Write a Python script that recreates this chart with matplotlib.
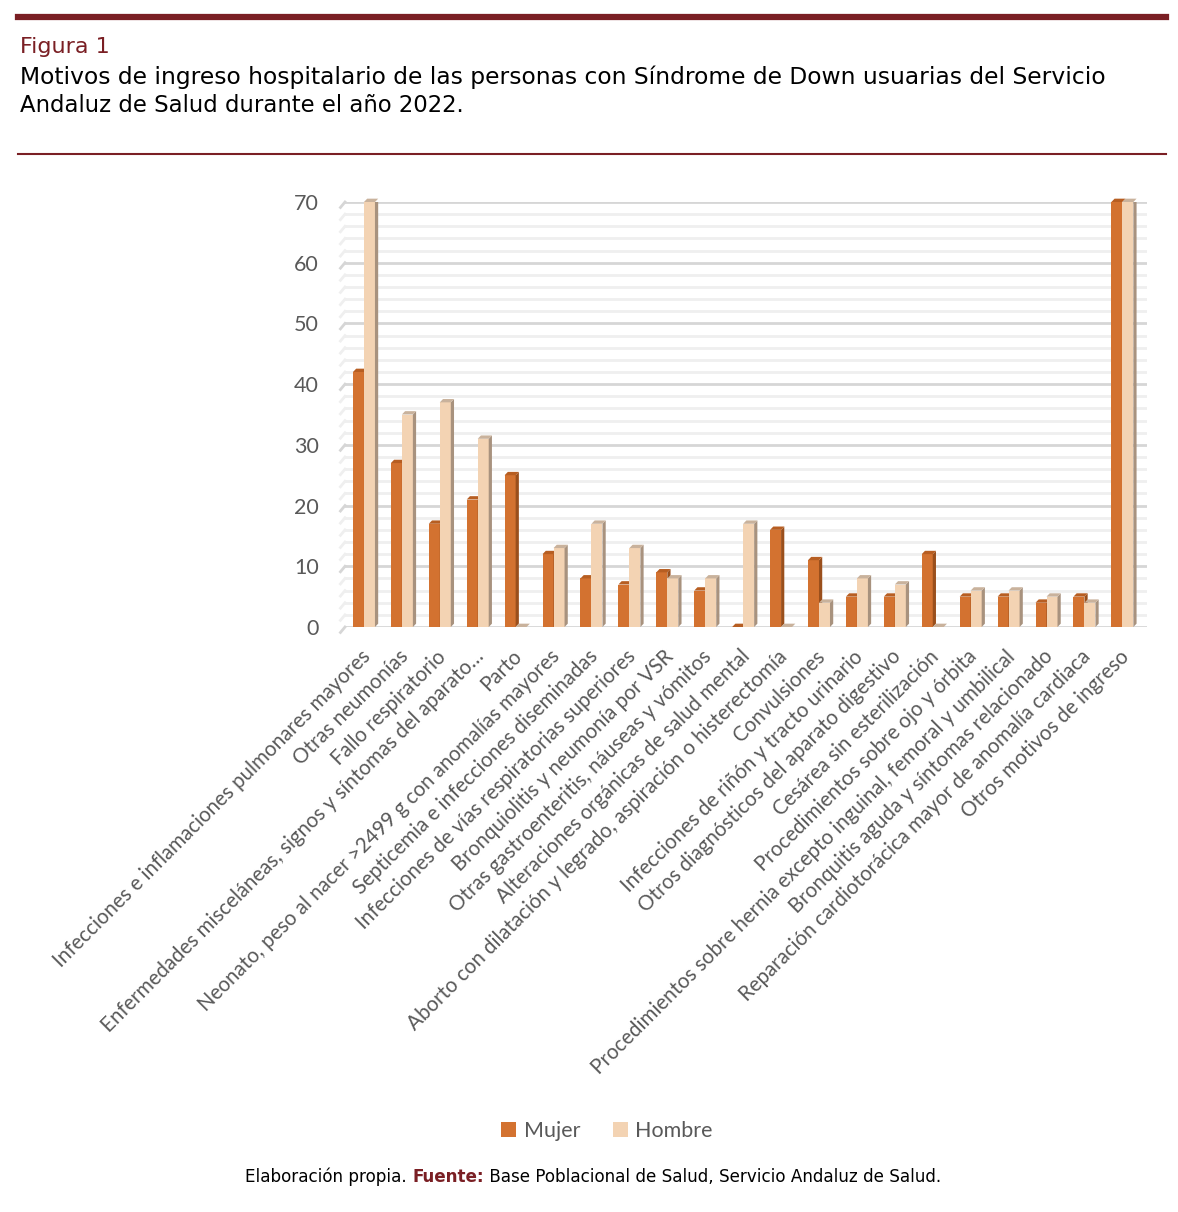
import matplotlib
matplotlib.use("Agg")
import matplotlib.pyplot as plt
from matplotlib.patches import Polygon, Rectangle
from matplotlib.lines import Line2D
import numpy as np

categorias = [
    "Infecciones e inflamaciones pulmonares mayores",
    "Otras neumonías",
    "Fallo respiratorio",
    "Enfermedades misceláneas, signos y síntomas del aparato…",
    "Parto",
    "Neonato, peso al nacer >2499 g con anomalías mayores",
    "Septicemia e infecciones diseminadas",
    "Infecciones de vías respiratorias superiores",
    "Bronquiolitis y neumonía por VSR",
    "Otras gastroenteritis, náuseas y vómitos",
    "Alteraciones orgánicas de salud mental",
    "Aborto con dilatación y legrado, aspiración o histerectomía",
    "Convulsiones",
    "Infecciones de riñón y tracto urinario",
    "Otros diagnósticos del aparato digestivo",
    "Cesárea sin esterilización",
    "Procedimientos sobre ojo y órbita",
    "Procedimientos sobre hernia excepto inguinal, femoral y umbilical",
    "Bronquitis aguda y síntomas relacionado",
    "Reparación cardiotorácica mayor de anomalía cardiaca",
    "Otros motivos de ingreso",
]
mujer = [42, 27, 17, 21, 25, 12, 8, 7, 9, 6, 0, 16, 11, 5, 5, 12, 5, 5, 4, 5, 70]
hombre = [70, 35, 37, 31, 0, 13, 17, 13, 8, 8, 17, 0, 4, 8, 7, 0, 6, 6, 5, 4, 70]
y_ticks = [0, 10, 20, 30, 40, 50, 60, 70]
series_names = ["Mujer", "Hombre"]

C_MUJ = "#D37230"
C_MUJ_SIDE = "#9A4F1C"
C_MUJ_TOP = "#B75E22"
C_HOM = "#F3D3B3"
C_HOM_SIDE = "#A8927E"
C_HOM_TOP = "#C9B29C"
TXT = "#595959"
RED = "#7A1F24"
LATO = ["Lato", "DejaVu Sans"]
COND = ["DejaVu Sans"]

W, H = 1178, 1212
fig = plt.figure(figsize=(W/100, H/100), dpi=100)
fig.canvas.draw()
r = fig.canvas.get_renderer()

def fit_text(xpx, ypx, s, target_w, size0=20, **kw):
    t = fig.text(xpx/W, 1-ypx/H, s, fontsize=size0, va="center", ha="left", **kw)
    bw = t.get_window_extent(r).width
    t.set_fontsize(size0 * target_w / bw)
    return t

# Header rules and title
fig.add_artist(Line2D([18/W, 1166/W], [1-17/H, 1-17/H], color=RED, lw=4.5))
fig.add_artist(Line2D([18/W, 1166/W], [1-154/H, 1-154/H], color=RED, lw=1.5))
fit_text(20, 47, "Figura 1", 90, color=RED, family=COND)
fit_text(20, 77, "Motivos de ingreso hospitalario de las personas con Síndrome de Down usuarias del Servicio",
         1083, color="black", family=COND)
fit_text(20, 106, "Andaluz de Salud durante el año 2022.", 445, color="black", family=COND)

ax = fig.add_axes([345/W, 1-627/H, (1147-345)/W, (627-202)/H])
n = len(categorias)
x = np.arange(n)
w = 0.29
ax.set_xlim(-0.5, n - 0.35)
ax.set_ylim(0, 70)

# gridlines
for v in range(0, 71, 2):
    major = (v % 10 == 0)
    col = "#D6D6D6" if major else "#EFEFEF"
    ax.axhline(v, color=col, lw=2.0, zorder=0)
    ax.plot([-0.62, -0.5], [v - 0.9, v], color=col, lw=2.0, clip_on=False, zorder=0)

dx = 0.085
dy = 0.55

def draw3d(xs, vals, face, side, top):
    bars = ax.bar(xs, vals, width=w, color=face, zorder=3, linewidth=0)
    for b in bars:
        x0 = b.get_x(); x1 = x0 + b.get_width(); h = b.get_height()
        ax.add_patch(Polygon([(x1, 0), (x1 + dx, dy), (x1 + dx, h + dy), (x1, h)],
                             closed=True, facecolor=side, edgecolor="none", zorder=3))
        ax.add_patch(Polygon([(x0, h), (x0 + dx, h + dy), (x1 + dx, h + dy), (x1, h)],
                             closed=True, facecolor=top, edgecolor="none", zorder=3, clip_on=False))
    return bars

draw3d(x - w/2, mujer, C_MUJ, C_MUJ_SIDE, C_MUJ_TOP)
draw3d(x + w/2, hombre, C_HOM, C_HOM_SIDE, C_HOM_TOP)

for s in ax.spines.values():
    s.set_visible(False)
ax.set_yticks(y_ticks)
ax.set_yticklabels([str(t) for t in y_ticks], fontsize=15.5, color=TXT, family=LATO)
ax.tick_params(axis="y", length=0, pad=19)
ax.set_xticks(x - 0.1)
ax.set_xticklabels(categorias, rotation=45, ha="right", rotation_mode="anchor",
                   fontsize=14.8, color=TXT, family=LATO)
ax.tick_params(axis="x", length=0, pad=14)

# legend
handles = [Rectangle((0, 0), 1, 1, facecolor=C_MUJ), Rectangle((0, 0), 1, 1, facecolor=C_HOM)]
fig.legend(handles, series_names, loc="center", bbox_to_anchor=(607/W, 1-1131/H),
           ncol=2, frameon=False, handlelength=0.7, handleheight=0.7, handletextpad=0.35,
           columnspacing=1.5, prop={"family": LATO, "size": 15.5},
           labelcolor=TXT)

# footer
fy = 1177
t1 = "Elaboración propia. "
t2 = "Fuente:"
t3 = " Base Poblacional de Salud, Servicio Andaluz de Salud."
fs = 15
a = fig.text(0, 0, t1, fontsize=fs, family=COND)
b = fig.text(0, 0, t2, fontsize=fs, family=COND, fontweight="bold")
c = fig.text(0, 0, t3, fontsize=fs, family=COND)
tot = sum(tt.get_window_extent(r).width for tt in (a, b, c))
fs2 = fs * 697 / tot
for tt in (a, b, c):
    tt.remove()
xcur = 245
for s_, col, wt in ((t1, "black", "normal"), (t2, RED, "bold"), (t3, "black", "normal")):
    tt = fig.text(xcur/W, 1-fy/H, s_, fontsize=fs2, family=COND, color=col, fontweight=wt,
                  va="center", ha="left")
    xcur += tt.get_window_extent(r).width

fig.savefig("out.png", dpi=100)
